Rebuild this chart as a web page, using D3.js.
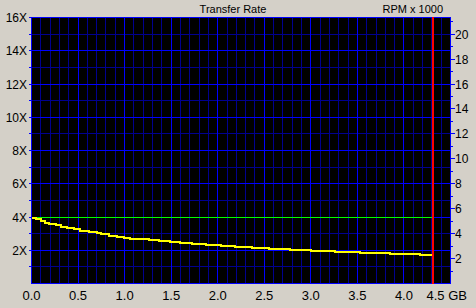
<!DOCTYPE html>
<html><head><meta charset="utf-8">
<script src="https://cdn.jsdelivr.net/npm/d3@7"></script>
<style>
html,body{margin:0;padding:0;background:#D4D0C8;}
svg{display:block;}
text{font-family:"Liberation Sans",Arial,sans-serif;fill:#000;}
</style></head><body>
<svg id="c" width="476" height="308"></svg>
<script>
// ---- data ----
const xTicks = [0, 0.5, 1.0, 1.5, 2.0, 2.5, 3.0, 3.5, 4.0, 4.5];
const xTickLabels = ["0.0","0.5","1.0","1.5","2.0","2.5","3.0","3.5","4.0","4.5 GB"];
const leftTicks = [2,4,6,8,10,12,14,16];
const leftTickLabels = ["2X","4X","6X","8X","10X","12X","14X","16X"];
const rightTicks = [2,4,6,8,10,12,14,16,18,20];
const rightTickLabels = ["2","4","6","8","10","12","14","16","18","20"];
// transfer rate (X) staircase: segment start positions (GB) and levels
const rateGB = [0,0.043,0.097,0.150,0.193,0.258,0.322,0.383,0.454,0.526,0.615,0.706,0.749,0.830,0.920,0.991,1.063,1.171,1.260,1.367,1.486,1.600,1.726,1.869,2.030,2.184,2.371,2.556,2.771,2.997,3.255,3.523,3.845,4.168,4.304];
const rateX  = [3.96,3.86,3.76,3.66,3.58,3.50,3.42,3.34,3.26,3.18,3.10,3.02,2.96,2.88,2.80,2.74,2.70,2.66,2.60,2.54,2.48,2.42,2.36,2.30,2.24,2.18,2.12,2.06,2.00,1.94,1.88,1.82,1.76,1.70,1.70];
const rpmGB = [0, 4.312];
const rpmK  = [5.33, 5.33];
const endGB = 4.312;

// ---- layout ----
const L=31.5, R=450.5, T=17.5, B=283.5;
const svg = d3.select("#c");
const x = d3.scaleLinear().domain([0,4.5]).range([L,R]);
const yL = d3.scaleLinear().domain([0,16]).range([B,T]);
const yR = d3.scaleLinear().domain([0,16*4/3]).range([B,T]);
const bright="#0000FF", dark="#000090";

svg.append("rect").attr("x",L).attr("y",T).attr("width",R-L).attr("height",B-T).attr("fill","#000");

const g = svg.append("g").attr("shape-rendering","crispEdges");
// minor vertical
const vMinor = d3.range(1,45).map(i=>i/10).filter(v=>Math.abs(v*2-Math.round(v*2))>1e-6);
g.selectAll(".vm").data(vMinor).join("line")
  .attr("x1",d=>Math.round(x(d)-0.5)+0.5).attr("x2",d=>Math.round(x(d)-0.5)+0.5)
  .attr("y1",T).attr("y2",B).attr("stroke",dark);
// minor horizontal
const hMinor = d3.range(1,16,2);
g.selectAll(".hm").data(hMinor).join("line")
  .attr("y1",d=>Math.round(yL(d)-0.5)+0.5).attr("y2",d=>Math.round(yL(d)-0.5)+0.5)
  .attr("x1",L).attr("x2",R).attr("stroke",dark);
// major vertical
g.selectAll(".vM").data(xTicks.slice(1,-1)).join("line")
  .attr("x1",d=>Math.round(x(d)-0.5)+0.5).attr("x2",d=>Math.round(x(d)-0.5)+0.5)
  .attr("y1",T).attr("y2",B).attr("stroke",bright);
// major horizontal
g.selectAll(".hM").data(leftTicks.slice(0,-1)).join("line")
  .attr("y1",d=>Math.round(yL(d)-0.5)+0.5).attr("y2",d=>Math.round(yL(d)-0.5)+0.5)
  .attr("x1",L).attr("x2",R).attr("stroke",bright);
// border
g.append("rect").attr("x",L).attr("y",T).attr("width",R-L).attr("height",B-T)
  .attr("fill","none").attr("stroke",bright);

// left ticks
g.selectAll(".lt").data(d3.range(1,17)).join("line")
  .attr("x1",L-3).attr("x2",L).attr("y1",d=>Math.round(yL(d)-0.5)+0.5).attr("y2",d=>Math.round(yL(d)-0.5)+0.5)
  .attr("stroke",bright);
// right ticks
g.selectAll(".rt").data(d3.range(1,22)).join("line")
  .attr("x1",R).attr("x2",d=>d%2===0?R+4:R+2)
  .attr("y1",d=>Math.round(yR(d)-0.5)+0.5).attr("y2",d=>Math.round(yR(d)-0.5)+0.5)
  .attr("stroke",bright);

// rpm line (green)
g.append("path").datum(rpmGB.map((v,i)=>[v,rpmK[i]]))
  .attr("d",d3.line().x(d=>x(d[0])).y(d=>Math.round(yR(d[1])-0.5)+0.5))
  .attr("stroke","#00FF00").attr("stroke-width",1).attr("fill","none");

// transfer rate (yellow)
g.append("path").datum(rateGB.map((v,i)=>[v,rateX[i]]))
  .attr("d",d3.line().curve(d3.curveStepAfter).x(d=>x(d[0])).y(d=>yL(d[1])))
  .attr("stroke","#FFFF00").attr("stroke-width",2).attr("fill","none");

// end marker (red)
g.append("line").attr("x1",x(endGB)).attr("x2",x(endGB)).attr("y1",T-0.5).attr("y2",B+0.5)
  .attr("stroke","#FF0000").attr("stroke-width",2);

// labels
svg.selectAll(".ll").data(leftTicks).join("text")
  .attr("x",27).attr("y",d=>yL(d)+4.5).attr("text-anchor","end")
  .attr("font-size",12).text((d,i)=>leftTickLabels[i]);
svg.selectAll(".rl").data(rightTicks).join("text")
  .attr("x",455).attr("y",d=>yR(d)+4.5).attr("text-anchor","start")
  .attr("font-size",12).text((d,i)=>rightTickLabels[i]);
svg.selectAll(".xl").data(xTicks).join("text")
  .attr("x",(d,i)=>i===xTicks.length-1?467:x(d))
  .attr("y",300).attr("text-anchor",(d,i)=>i===xTicks.length-1?"end":"middle")
  .attr("font-size",13).text((d,i)=>xTickLabels[i]);
svg.append("text").attr("x",233).attr("y",13).attr("text-anchor","middle")
  .attr("font-size",11).text("Transfer Rate");
svg.append("text").attr("x",443).attr("y",13).attr("text-anchor","end")
  .attr("font-size",11).text("RPM x 1000");
</script>
</body></html>
